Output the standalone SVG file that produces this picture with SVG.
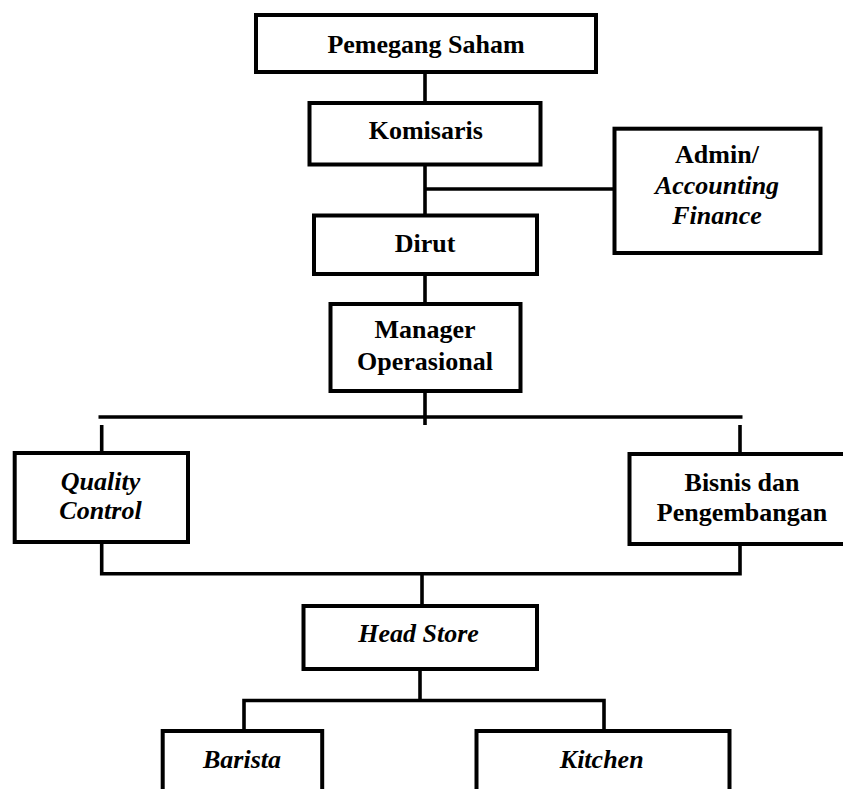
<svg xmlns="http://www.w3.org/2000/svg" width="843" height="789" viewBox="0 0 843 789">
<style>
.box{fill:#fff;stroke:#000;stroke-width:4}
.ln{fill:none;stroke:#000;stroke-width:3.6}
text{font-family:"Liberation Serif","Times New Roman",serif;font-size:26px;font-weight:bold;text-anchor:middle;fill:#000}
.it{font-style:italic}
</style>
<rect width="843" height="789" fill="#fff"/>
<g id="connectors">
<line class="ln" x1="425" y1="72" x2="425" y2="103"/>
<line class="ln" x1="425" y1="164" x2="425" y2="216"/>
<line class="ln" x1="425" y1="189" x2="615" y2="189"/>
<line class="ln" x1="425" y1="274" x2="425" y2="304"/>
<line class="ln" x1="425" y1="391" x2="425" y2="425"/>
<line class="ln" x1="98.5" y1="417" x2="742.5" y2="417"/>
<line class="ln" x1="101.7" y1="425" x2="101.7" y2="453"/>
<line class="ln" x1="740" y1="425" x2="740" y2="454"/>
<polyline class="ln" points="101.7,542 101.7,573.8 740,573.8 740,544"/>
<line class="ln" x1="422" y1="573.8" x2="422" y2="606"/>
<line class="ln" x1="420" y1="669" x2="420" y2="700.5"/>
<polyline class="ln" points="244,731 244,700.5 604,700.5 604,731"/>
</g>
<g id="pemegang-saham">
<rect class="box" x="256" y="15" width="340" height="57"/>
<text x="426" y="52.7">Pemegang Saham</text>
</g>
<g id="komisaris">
<rect class="box" x="309.5" y="103" width="231" height="61.5"/>
<text x="425.8" y="139.3">Komisaris</text>
</g>
<g id="admin">
<rect class="box" x="614.5" y="128.7" width="206" height="124.3"/>
<text x="717" y="163.3">Admin/</text>
<text class="it" x="717" y="194">Accounting</text>
<text class="it" x="717" y="224.3">Finance</text>
</g>
<g id="dirut">
<rect class="box" x="314" y="215.5" width="223" height="58.5"/>
<text x="425" y="251.7">Dirut</text>
</g>
<g id="manager-operasional">
<rect class="box" x="330.5" y="304" width="190" height="87"/>
<text x="425" y="338.3">Manager</text>
<text x="425" y="370">Operasional</text>
</g>
<g id="quality-control">
<rect class="box" x="14.7" y="453" width="173.3" height="89"/>
<text class="it" x="100.5" y="490">Quality</text>
<text class="it" x="100.5" y="519">Control</text>
</g>
<g id="bisnis-pengembangan">
<rect class="box" x="629.5" y="454" width="230" height="90"/>
<text x="742" y="490.7">Bisnis dan</text>
<text x="742" y="520.7">Pengembangan</text>
</g>
<g id="head-store">
<rect class="box" x="303.5" y="606" width="233.5" height="63"/>
<text class="it" x="418.5" y="642.3">Head Store</text>
</g>
<g id="barista">
<rect class="box" x="162.7" y="731" width="159.5" height="80"/>
<text class="it" x="242" y="768.3">Barista</text>
</g>
<g id="kitchen">
<rect class="box" x="476.5" y="731" width="253" height="80"/>
<text class="it" x="601.7" y="768.3">Kitchen</text>
</g>
</svg>
